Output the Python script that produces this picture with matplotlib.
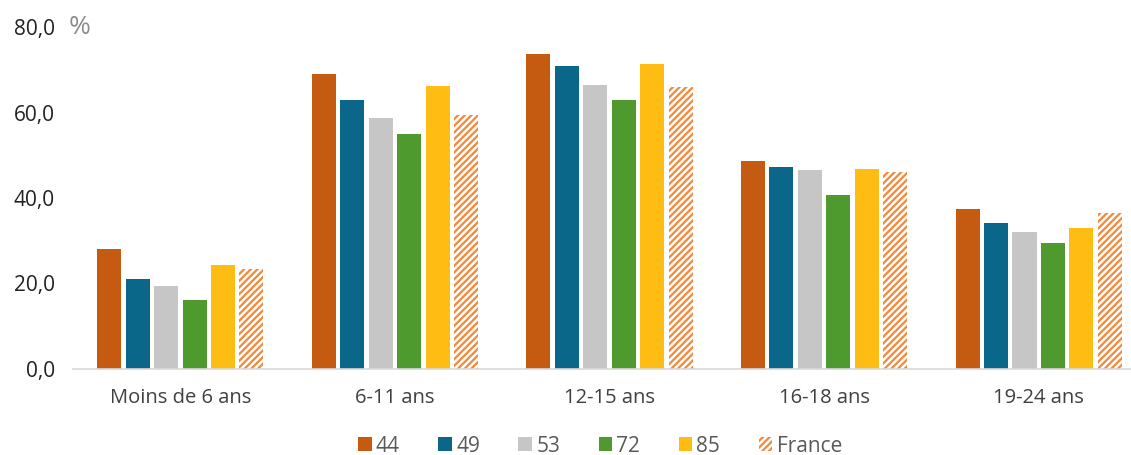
import numpy as np
import matplotlib.pyplot as plt
from matplotlib.patches import Patch

plt.rcParams['font.family'] = ['Open Sans', 'DejaVu Sans']
plt.rcParams['hatch.linewidth'] = 1.6

categories = ['Moins de 6 ans', '6-11 ans', '12-15 ans', '16-18 ans', '19-24 ans']
series_names = ['44', '49', '53', '72', '85', 'France']
v44 = [28.1, 69.0, 73.7, 48.7, 37.4]
v49 = [21.1, 62.9, 70.9, 47.3, 34.2]
v53 = [19.4, 58.7, 66.4, 46.5, 32.0]
v72 = [16.1, 55.0, 62.9, 40.7, 29.5]
v85 = [24.3, 66.2, 71.3, 46.8, 33.0]
vfr = [23.4, 59.4, 66.0, 46.1, 36.5]
yticks = [0, 20, 40, 60, 80]

colors = ['#C55A11', '#0A6789', '#C6C6C6', '#4E9A2E', '#FFBC13']
hatch_col = '#F4883A'

fig = plt.figure(figsize=(11.31, 4.55), dpi=100)
ax = fig.add_axes([73 / 1131, 86 / 455, 1058 / 1131, 342 / 455])

x = np.arange(len(categories))
pitch = 0.1325
width = 0.112
all_vals = [v44, v49, v53, v72, v85, vfr]
for i, vals in enumerate(all_vals):
    pos = x + (i - 2.5) * pitch
    if i < 5:
        ax.bar(pos, vals, width, color=colors[i], zorder=2)
    else:
        ax.bar(pos, vals, width, facecolor='white', edgecolor=hatch_col,
               hatch='/////', linewidth=0, zorder=2)

ax.set_xlim(-0.5, 4.43)
ax.set_ylim(0, 80)
ax.set_yticks(yticks)
ax.set_yticklabels([f'{t:.1f}'.replace('.', ',') for t in yticks], fontsize=15, color='#222222')
ax.set_xticks(x)
ax.set_xticklabels(categories, fontsize=14.5, color='#404040')
ax.tick_params(axis='y', length=0, pad=13)
ax.tick_params(axis='x', length=0, pad=14)
for s in ['top', 'right', 'left']:
    ax.spines[s].set_visible(False)
ax.spines['bottom'].set_color('#D9D9D9')
ax.spines['bottom'].set_linewidth(1.2)

fig.text(69 / 1131, 1 - 27 / 455, '%', fontsize=19, color='#8C8C8C', va='center', ha='left')

handles = [Patch(facecolor=c) for c in colors]
handles.append(Patch(facecolor='white', edgecolor=hatch_col, hatch='/////', linewidth=0))
fig.legend(handles, series_names, loc='center', bbox_to_anchor=(600 / 1131, 1 - 446 / 455),
           ncol=6, frameon=False, fontsize=15, labelcolor='#595959',
           handlelength=0.65, handleheight=0.65, handletextpad=0.2, columnspacing=1.85,
           borderpad=0.2)

fig.savefig('out.png', dpi=100)
